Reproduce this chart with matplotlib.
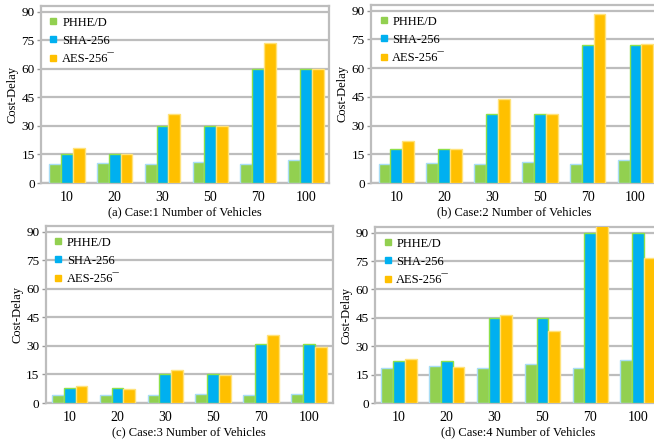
import numpy as np
import matplotlib.pyplot as plt
from matplotlib.lines import Line2D

plt.rcParams['font.family'] = ['Liberation Serif', 'DejaVu Serif']
plt.rcParams['font.size'] = 10

vehicles = ['10', '20', '30', '50', '70', '100']
series = ['PHHE/D', 'SHA-256', 'AES-256\u00af']

# cost-delay per case, one list per scheme
phhe = [[10, 10.5, 10, 11.2, 10, 12],
        [10, 10.5, 10, 11.2, 10, 12],
        [4, 4.2, 4, 4.7, 4, 4.9],
        [18.3, 19.5, 18.3, 20.6, 18.3, 22.5]]
sha = [[15, 15, 30, 30, 60, 60],
       [18, 18, 36, 36, 72, 72],
       [7.7, 7.7, 15.5, 15.5, 31, 31],
       [22.3, 22.3, 45, 45, 90, 90]]
aes = [[18.5, 15, 36.5, 30, 73.8, 60],
       [22, 18, 44, 36, 88.4, 72.5],
       [9, 7.2, 17.6, 14.6, 35.7, 29.5],
       [23.2, 19.2, 46.4, 38.3, 96, 76.6]]
captions = ['(a) Case:1 Number of Vehicles', '(b) Case:2 Number of Vehicles',
            '(c) Case:3 Number of Vehicles', '(d) Case:4 Number of Vehicles']

fills = ['#92D050', '#00B0F0', '#FFC000']
edges = ['#A8DDF5', '#8EE04A', '#FFE27A']
grid_c = '#BDBDBD'

W, H = 654, 441
# axes boxes in pixels: left, top, right, bottom, xlim
boxes = [(41, 6, 329, 183, (-0.54, 5.48)),
         (371, 5, 658, 183, (-0.53, 5.47)),
         (45.7, 226, 332.7, 403, (-0.5, 5.5)),
         (375, 227, 662, 403, (-0.5, 5.5))]

fig = plt.figure(figsize=(W / 100, H / 100), dpi=100)
x = np.arange(len(vehicles))
bw = 0.247

for k, (l, t, r, b, xl) in enumerate(boxes):
    ax = fig.add_axes([l / W, 1 - b / H, (r - l) / W, (b - t) / H])
    data = [phhe[k], sha[k], aes[k]]
    for j in range(3):
        ax.bar(x + (j - 1) * bw, data[j], bw, color=fills[j],
               edgecolor=edges[j], linewidth=1.0, zorder=3, label=series[j])
    ax.set_xlim(*xl)
    ax.set_ylim(0, 93)
    ax.set_yticks(np.arange(0, 91, 15))
    ax.set_xticks(x)
    ax.set_xticklabels(vehicles)
    ax.yaxis.grid(True, color=grid_c, linewidth=1.6, zorder=0)
    ax.set_axisbelow(True)
    for s in ax.spines.values():
        s.set_color(grid_c)
        s.set_linewidth(1.6)
    ax.tick_params(axis='y', length=3, width=1, color='#999999', pad=1.5,
                   labelsize=9.5)
    ax.tick_params(axis='x', length=0, pad=5.5, labelsize=10)
    ax.set_ylabel('Cost-Delay', fontsize=9, labelpad=2)
    ax.set_xlabel(captions[k], fontsize=9, labelpad=2)

    handles = [Line2D([], [], marker='s', linestyle='none', markersize=4,
                      markerfacecolor=fills[j], markeredgecolor=fills[j])
               for j in range(3)]
    ax.legend(handles, series, loc='upper left', frameon=False, fontsize=9,
              handlelength=0.6, handletextpad=0.4, labelspacing=0.5,
              borderaxespad=0.3, bbox_to_anchor=(0.0, 0.99))

fig.savefig('out.png', dpi=100)
